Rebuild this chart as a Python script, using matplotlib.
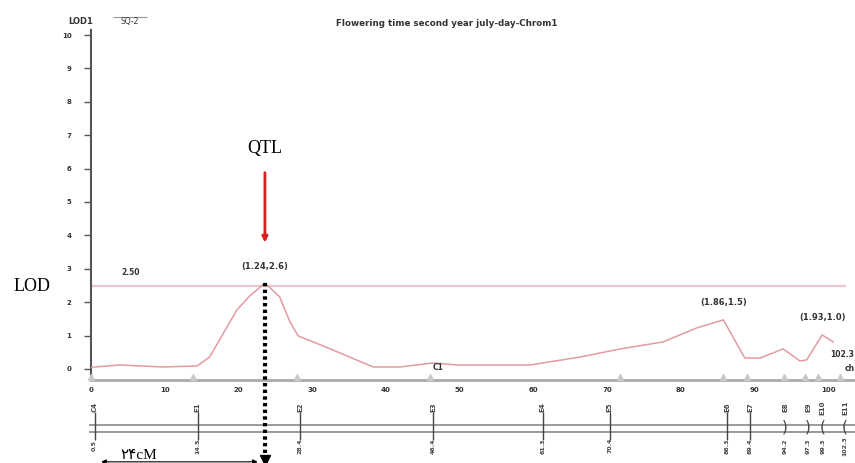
"""LOD profile for flowering time (second year, july-day), chromosome 1,
with the linkage map drawn underneath and the QTL position marked."""

import matplotlib.pyplot as plt

# LOD curve (cM, LOD)
LOD_CM = [0, 3.9, 9.8, 14.4, 16.1, 19.8, 21.6, 23.6, 25.6, 27.0, 28.1, 31.5,
          38.3, 41.9, 46.4, 49.7, 59.6, 66.4, 71.8, 77.6, 82.2, 85.8, 88.7,
          90.8, 93.9, 96.2, 97.1, 99.2, 100.7]
LOD_VAL = [0.05, 0.12, 0.06, 0.09, 0.36, 1.77, 2.20, 2.57, 2.16, 1.41, 0.99,
           0.69, 0.06, 0.06, 0.18, 0.12, 0.12, 0.36, 0.60, 0.81, 1.23, 1.47,
           0.33, 0.33, 0.60, 0.24, 0.27, 1.02, 0.81]
THRESHOLD = 2.48
THRESHOLD_LABEL = "2.50"

# peaks and their labels
PEAK_CM = [23.6, 85.8, 99.2]
PEAK_LOD = [2.57, 1.47, 1.02]
PEAK_LABELS = ["(1.24,2.6)", "(1.86,1.5)", "(1.93,1.0)"]
QTL_CM = 23.6
QTL_LOD = 2.57

# small marker humps on the x axis
BUMP_CM = [0, 13.9, 28.0, 46.0, 71.8, 85.8, 89.0, 94.0, 96.9, 98.7, 101.6]

# linkage map markers
MAP_CM = [0.5, 14.5, 28.4, 46.4, 61.3, 70.4, 86.3, 89.4, 94.2, 97.3, 99.3,
          102.3]
MAP_NAMES = ["C4", "E1", "E2", "E3", "E4", "E5", "E6", "E7", "E8", "E9",
             "E10", "E11"]
MAP_BRACKETS = {94.2: ")", 97.3: ")", 99.3: "(", 102.3: "("}

Y_TICKS = list(range(0, 11))
X_TICKS = list(range(0, 101, 10))

CURVE_COLOR = "#e39aa2"
THR_COLOR = "#e9c6cb"
TXT = "#333333"
SERIF = ["Liberation Serif", "DejaVu Sans"]

fig = plt.figure(figsize=(8.55, 4.63), dpi=100)
ax = fig.add_axes([91 / 855, 83 / 463, 764 / 855, 350 / 463])
ax.set_xlim(0, 103.66)
ax.set_ylim(-0.33, 10.15)

for side in ["top", "right"]:
    ax.spines[side].set_visible(False)
ax.spines["left"].set_color("#555555")
ax.spines["left"].set_linewidth(1.5)
ax.spines["bottom"].set_color("#aaaaaa")
ax.spines["bottom"].set_linewidth(2)

ax.set_yticks(Y_TICKS)
ax.set_yticklabels([str(v) for v in Y_TICKS], fontsize=5, fontweight="bold",
                   color=TXT)
ax.tick_params(axis="y", length=5, width=1, color="#555555", pad=9)
ax.set_xticks(X_TICKS)
ax.set_xticklabels([str(v) for v in X_TICKS], fontsize=5, fontweight="bold",
                   color=TXT)
ax.tick_params(axis="x", length=0, pad=5)

# curve + threshold
ax.plot(LOD_CM, LOD_VAL, color=CURVE_COLOR, lw=1.1, zorder=3)
ax.hlines(THRESHOLD, 0, 102.5, color=THR_COLOR, lw=1.6, zorder=2)
ax.text(5.4, THRESHOLD + 0.33, THRESHOLD_LABEL, fontsize=5.5,
        fontweight="bold", ha="center", color=TXT)
ax.plot(BUMP_CM, [-0.25] * len(BUMP_CM), ls="none", marker="^",
        ms=5, color="#c8c8c8", clip_on=False, zorder=4)

for x, y, lab in zip(PEAK_CM, PEAK_LOD, PEAK_LABELS):
    ax.annotate(lab, xy=(x, y), xytext=(0, 9), textcoords="offset points",
                ha="center", va="bottom", fontsize=6, fontweight="bold",
                color=TXT)
ax.text(100.3, 0.36, "102.3", fontsize=5.5, fontweight="bold",
        color=TXT, clip_on=False)
ax.text(102.2, -0.06, "ch", fontsize=5.5, fontweight="bold",
        color=TXT, clip_on=False)
ax.text(47.1, 0.03, "C1", fontsize=5.5, fontweight="bold", ha="center",
        va="center", color=TXT)

# header
ax.text(-1.4, 10.39, "LOD1", fontsize=6, fontweight="bold", ha="center",
        va="center", color=TXT, clip_on=False)
ax.text(5.3, 10.39, "SQ-2", fontsize=5.5, ha="center", va="center",
        color=TXT, clip_on=False)
ax.hlines(10.55, 3.0, 7.6, color="#999999", lw=0.8, clip_on=False)
ax.text(48.3, 10.33, "Flowering time second year july-day-Chrom1",
        fontsize=6.3, fontweight="bold", ha="center", va="center",
        color=TXT, clip_on=False)

# QTL marking
ax.text(QTL_CM, 6.6, "QTL", family=SERIF, fontsize=13, ha="center",
        va="center", clip_on=False)
ax.annotate("", xy=(QTL_CM, 3.7), xytext=(QTL_CM, 5.96),
            arrowprops=dict(arrowstyle="-|>", color="#d42020", lw=2,
                            mutation_scale=8), annotation_clip=False)
ax.text(-8.0, THRESHOLD, "LOD", family=SERIF, fontsize=13, ha="center",
        va="center", clip_on=False)
ax.plot([QTL_CM, QTL_CM], [QTL_LOD, -2.66], color="black", lw=3,
        ls=(0, (0.8, 0.8)), clip_on=False, zorder=5)
ax.plot([QTL_CM], [-2.72], marker="v", ms=7, color="black",
        clip_on=False, zorder=5)

# linkage map
for y in [-1.68, -1.89]:
    ax.hlines(y, -0.3, 103.66, color="#9a9a9a", lw=1.4, clip_on=False)
for pos, name in zip(MAP_CM, MAP_NAMES):
    if pos in MAP_BRACKETS:
        ax.text(pos, -1.74, MAP_BRACKETS[pos], fontsize=11, ha="center",
                va="center", color="#444444", clip_on=False)
    else:
        ax.vlines(pos, -1.3, -2.13, color="#444444", lw=1, clip_on=False)
    ax.text(pos, -1.15, name, fontsize=5, fontweight="bold", rotation=90,
            ha="center", va="center", color="#444444", clip_on=False)
    ax.text(pos, -2.3, f"{pos:.1f}", fontsize=4.5, fontweight="bold",
            rotation=90, ha="center", va="center", color="#444444",
            clip_on=False)

# distance to QTL
ax.text(6.5, -2.6, "۲۴cM", family=SERIF, fontsize=11, ha="center",
        va="center", clip_on=False)
ax.annotate("", xy=(1.0, -2.78), xytext=(QTL_CM - 0.6, -2.78),
            arrowprops=dict(arrowstyle="<|-|>", color="black", lw=0.8,
                            mutation_scale=7), annotation_clip=False)

fig.savefig("out.png", dpi=100)
